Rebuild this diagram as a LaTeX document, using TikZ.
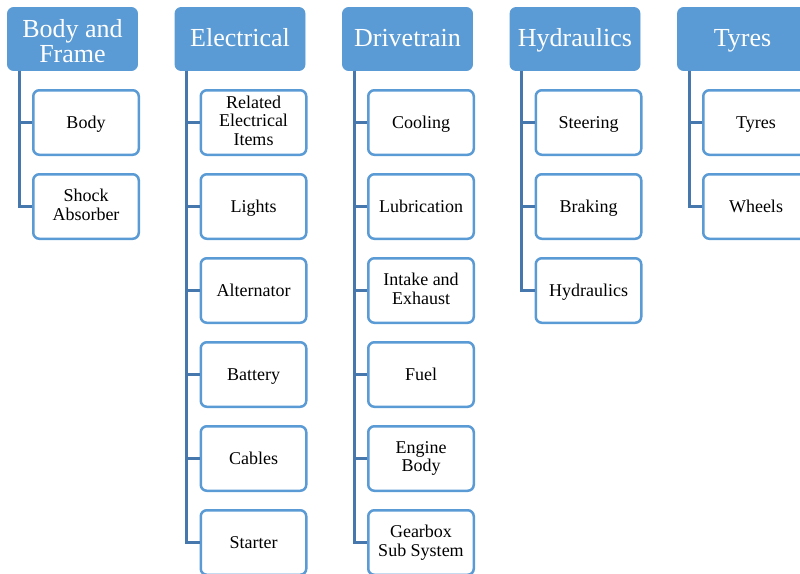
\documentclass[tikz,border=0pt]{standalone}
\usepackage{fontspec}
\setmainfont{Liberation Serif}
\definecolor{boxblue}{HTML}{5B9BD5}
\definecolor{linkblue}{HTML}{4678AE}
% invisible rules that fix the height and depth of the first and last text line
\newcommand{\headstrut}{\rule[-0.22em]{0pt}{0.98em}}
\newcommand{\itemstrut}{\rule[-0.22em]{0pt}{1.08em}}
\tikzset{
  head/.style={fill=boxblue, draw=boxblue, line width=0.8pt, rounded corners=6pt,
    minimum width=130pt, minimum height=63pt, inner sep=0pt, text=white,
    align=center, font=\fontsize{26}{25}\selectfont,
    execute at begin node=\headstrut, execute at end node=\headstrut},
  item/.style={fill=white, draw=boxblue, line width=2.5pt, rounded corners=6pt,
    minimum width=105.5pt, minimum height=64.5pt, inner sep=0pt, text=black,
    align=center, font=\fontsize{18}{18.5}\selectfont,
    execute at begin node=\itemstrut, execute at end node=\itemstrut},
  link/.style={draw=linkblue, line width=3pt}
}
\begin{document}
\begin{tikzpicture}[x=1pt,y=-1pt]
\clip (0,0) rectangle (800,573);
\useasboundingbox (0,0) rectangle (800,573);

% column headers
\node[head] (h0) at (72.5,39) {\rule{0pt}{1.07em}Body and\\Frame};
\node[head] (h1) at (240,39) {Electrical};
\node[head] (h2) at (407.5,39) {Drivetrain};
\node[head] (h3) at (575,39) {Hydraulics};
\node[head] (h4) at (742.5,39) {Tyres};

% Body and Frame
\node[item] (c0a) at (86,122.5) {Body};
\node[item] (c0b) at (86,206.5) {Shock\\Absorber};

% Electrical
\node[item] (c1a) at (253.5,122.5) {Related\\Electrical\\Items};
\node[item] (c1b) at (253.5,206.5) {Lights};
\node[item] (c1c) at (253.5,290.5) {Alternator};
\node[item] (c1d) at (253.5,374.5) {Battery};
\node[item] (c1e) at (253.5,458.5) {Cables};
\node[item] (c1f) at (253.5,542.5) {Starter};

% Drivetrain
\node[item] (c2a) at (421,122.5) {Cooling};
\node[item] (c2b) at (421,206.5) {Lubrication};
\node[item] (c2c) at (421,290.5) {Intake and\\Exhaust};
\node[item] (c2d) at (421,374.5) {Fuel};
\node[item] (c2e) at (421,458.5) {Engine\\Body};
\node[item] (c2f) at (421,542.5) {Gearbox\\Sub System};

% Hydraulics
\node[item] (c3a) at (588.5,122.5) {Steering};
\node[item] (c3b) at (588.5,206.5) {Braking};
\node[item] (c3c) at (588.5,290.5) {Hydraulics};

% Tyres
\node[item] (c4a) at (756,122.5) {Tyres};
\node[item] (c4b) at (756,206.5) {Wheels};

% tree connectors
\foreach \h/\c in {h0/c0a,h0/c0b,
                   h1/c1a,h1/c1b,h1/c1c,h1/c1d,h1/c1e,h1/c1f,
                   h2/c2a,h2/c2b,h2/c2c,h2/c2d,h2/c2e,h2/c2f,
                   h3/c3a,h3/c3b,h3/c3c,
                   h4/c4a,h4/c4b}
  \draw[link] ([xshift=12pt]\h.south west) |- (\c.west);
\end{tikzpicture}
\end{document}
